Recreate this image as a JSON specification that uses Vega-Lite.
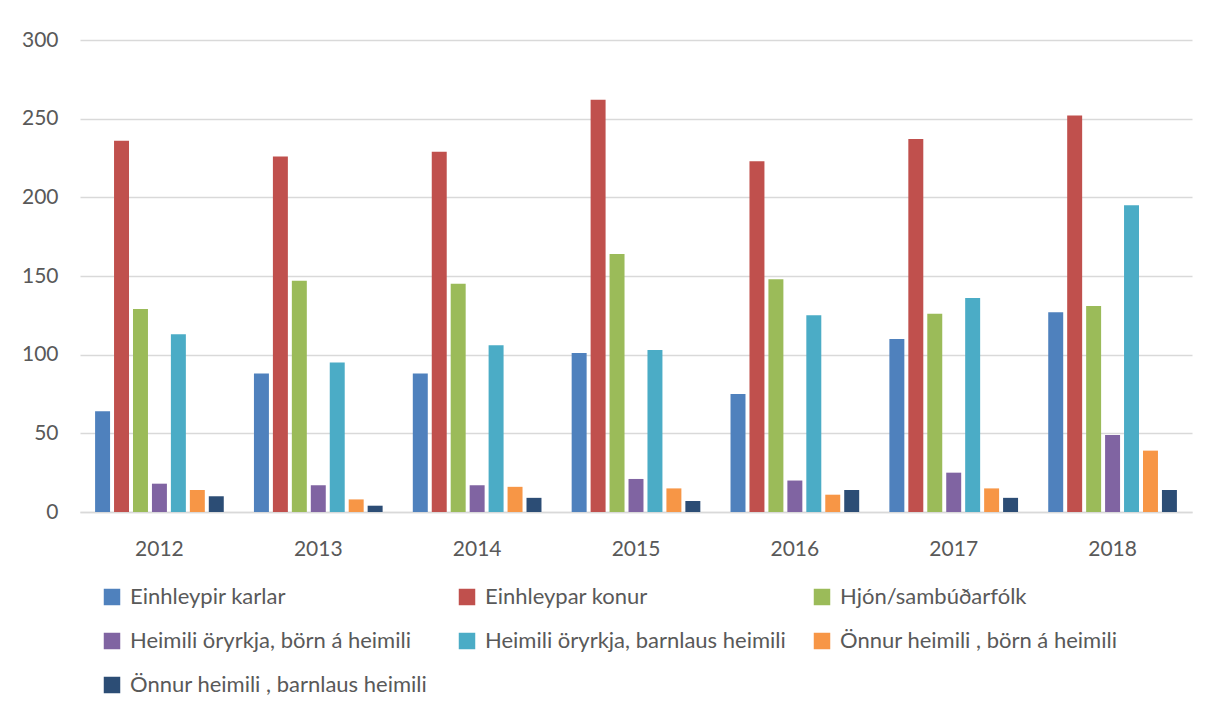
{
  "$schema": "https://vega.github.io/schema/vega-lite/v6.json",
  "width": 1112,
  "height": 472,
  "autosize": {"type": "none"},
  "padding": {"left": 80, "top": 40, "right": 15, "bottom": 197},
  "background": "white",
  "config": {
    "font": "Lato",
    "view": {"stroke": null},
    "axis": {"labelFont": "Lato", "labelColor": "#595959", "labelFontSize": 21},
    "legend": {"labelFont": "Lato", "labelColor": "#595959", "labelFontSize": 22}
  },
  "data": {
    "values": [
      {"year": "2012", "group": "Einhleypir karlar", "value": 64},
      {"year": "2012", "group": "Einhleypar konur", "value": 236},
      {"year": "2012", "group": "Hjón/sambúðarfólk", "value": 129},
      {"year": "2012", "group": "Heimili öryrkja, börn á heimili", "value": 18},
      {"year": "2012", "group": "Heimili öryrkja, barnlaus heimili", "value": 113},
      {"year": "2012", "group": "Önnur heimili , börn á heimili", "value": 14},
      {"year": "2012", "group": "Önnur heimili , barnlaus heimili", "value": 10},
      {"year": "2013", "group": "Einhleypir karlar", "value": 88},
      {"year": "2013", "group": "Einhleypar konur", "value": 226},
      {"year": "2013", "group": "Hjón/sambúðarfólk", "value": 147},
      {"year": "2013", "group": "Heimili öryrkja, börn á heimili", "value": 17},
      {"year": "2013", "group": "Heimili öryrkja, barnlaus heimili", "value": 95},
      {"year": "2013", "group": "Önnur heimili , börn á heimili", "value": 8},
      {"year": "2013", "group": "Önnur heimili , barnlaus heimili", "value": 4},
      {"year": "2014", "group": "Einhleypir karlar", "value": 88},
      {"year": "2014", "group": "Einhleypar konur", "value": 229},
      {"year": "2014", "group": "Hjón/sambúðarfólk", "value": 145},
      {"year": "2014", "group": "Heimili öryrkja, börn á heimili", "value": 17},
      {"year": "2014", "group": "Heimili öryrkja, barnlaus heimili", "value": 106},
      {"year": "2014", "group": "Önnur heimili , börn á heimili", "value": 16},
      {"year": "2014", "group": "Önnur heimili , barnlaus heimili", "value": 9},
      {"year": "2015", "group": "Einhleypir karlar", "value": 101},
      {"year": "2015", "group": "Einhleypar konur", "value": 262},
      {"year": "2015", "group": "Hjón/sambúðarfólk", "value": 164},
      {"year": "2015", "group": "Heimili öryrkja, börn á heimili", "value": 21},
      {"year": "2015", "group": "Heimili öryrkja, barnlaus heimili", "value": 103},
      {"year": "2015", "group": "Önnur heimili , börn á heimili", "value": 15},
      {"year": "2015", "group": "Önnur heimili , barnlaus heimili", "value": 7},
      {"year": "2016", "group": "Einhleypir karlar", "value": 75},
      {"year": "2016", "group": "Einhleypar konur", "value": 223},
      {"year": "2016", "group": "Hjón/sambúðarfólk", "value": 148},
      {"year": "2016", "group": "Heimili öryrkja, börn á heimili", "value": 20},
      {"year": "2016", "group": "Heimili öryrkja, barnlaus heimili", "value": 125},
      {"year": "2016", "group": "Önnur heimili , börn á heimili", "value": 11},
      {"year": "2016", "group": "Önnur heimili , barnlaus heimili", "value": 14},
      {"year": "2017", "group": "Einhleypir karlar", "value": 110},
      {"year": "2017", "group": "Einhleypar konur", "value": 237},
      {"year": "2017", "group": "Hjón/sambúðarfólk", "value": 126},
      {"year": "2017", "group": "Heimili öryrkja, börn á heimili", "value": 25},
      {"year": "2017", "group": "Heimili öryrkja, barnlaus heimili", "value": 136},
      {"year": "2017", "group": "Önnur heimili , börn á heimili", "value": 15},
      {"year": "2017", "group": "Önnur heimili , barnlaus heimili", "value": 9},
      {"year": "2018", "group": "Einhleypir karlar", "value": 127},
      {"year": "2018", "group": "Einhleypar konur", "value": 252},
      {"year": "2018", "group": "Hjón/sambúðarfólk", "value": 131},
      {"year": "2018", "group": "Heimili öryrkja, börn á heimili", "value": 49},
      {"year": "2018", "group": "Heimili öryrkja, barnlaus heimili", "value": 195},
      {"year": "2018", "group": "Önnur heimili , börn á heimili", "value": 39},
      {"year": "2018", "group": "Önnur heimili , barnlaus heimili", "value": 14}
    ]
  },
  "mark": {"type": "bar"},
  "encoding": {
    "x": {
      "field": "year",
      "type": "nominal",
      "scale": {"paddingInner": 0.19, "paddingOuter": 0.095},
      "axis": {
        "title": null,
        "labelAngle": 0,
        "ticks": false,
        "domain": true,
        "domainColor": "#d9d9d9",
        "domainWidth": 1.5,
        "labelPadding": 26
      }
    },
    "xOffset": {
      "field": "group",
      "type": "nominal",
      "sort": ["Einhleypir karlar", "Einhleypar konur", "Hjón/sambúðarfólk", "Heimili öryrkja, börn á heimili", "Heimili öryrkja, barnlaus heimili", "Önnur heimili , börn á heimili", "Önnur heimili , barnlaus heimili"],
      "scale": {"paddingInner": 0.21, "paddingOuter": 0}
    },
    "y": {
      "field": "value",
      "type": "quantitative",
      "scale": {"domain": [0, 300], "nice": false},
      "axis": {
        "title": null,
        "values": [0, 50, 100, 150, 200, 250, 300],
        "ticks": false,
        "domain": false,
        "gridColor": "#d9d9d9",
        "gridWidth": 1.5,
        "labelPadding": 22
      }
    },
    "color": {
      "field": "group",
      "type": "nominal",
      "scale": {
        "domain": ["Einhleypir karlar", "Einhleypar konur", "Hjón/sambúðarfólk", "Heimili öryrkja, börn á heimili", "Heimili öryrkja, barnlaus heimili", "Önnur heimili , börn á heimili", "Önnur heimili , barnlaus heimili"],
        "range": ["#4f81bd", "#c0504d", "#9bbb59", "#8064a2", "#4bacc6", "#f79646", "#2c4d75"]
      },
      "legend": {
        "title": null,
        "orient": "none",
        "direction": "horizontal",
        "legendX": 21,
        "legendY": 546,
        "columns": 3,
        "gridAlign": "all",
        "columnPadding": 25,
        "rowPadding": 22,
        "symbolType": "square",
        "symbolSize": 272,
        "symbolStrokeWidth": 0,
        "symbolOpacity": 1,
        "labelOffset": 7,
        "labelLimit": 400,
        "padding": 0
      }
    }
  }
}
